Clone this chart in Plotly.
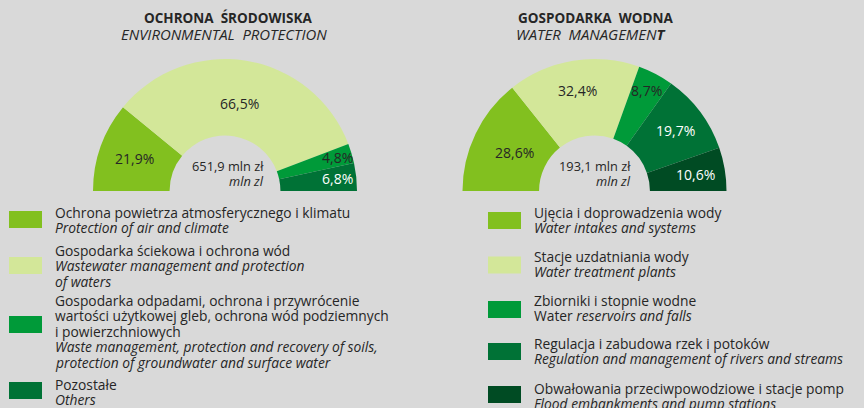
import math
import plotly.graph_objects as go

# ---------------- data ----------------
env_title_pl = "OCHRONA\u00a0\u00a0ŚRODOWISKA"
env_title_en = "ENVIRONMENTAL\u00a0\u00a0PROTECTION"
env_values = [21.9, 66.5, 4.8, 6.8]
env_labels = ["21,9%", "66,5%", "4,8%", "6,8%"]
env_total = "651,9 mln zł"
env_legend_pl = [
    ["Ochrona powietrza atmosferycznego i klimatu"],
    ["Gospodarka ściekowa i ochrona wód"],
    ["Gospodarka odpadami, ochrona i przywrócenie",
     "wartości użytkowej gleb, ochrona wód podziemnych",
     "i powierzchniowych"],
    ["Pozostałe"],
]
env_legend_en = [
    ["Protection of air and climate"],
    ["Wastewater management and protection", "of waters"],
    ["Waste management, protection and recovery of soils,",
     "protection of groundwater and surface water"],
    ["Others"],
]

wat_title_pl = "GOSPODARKA\u00a0\u00a0WODNA"
wat_title_en = "WATER\u00a0\u00a0MANAGEMEN<b>T</b>"
wat_values = [28.6, 32.4, 8.7, 19.7, 10.6]
wat_labels = ["28,6%", "32,4%", "8,7%", "19,7%", "10,6%"]
wat_total = "193,1 mln zł"
wat_legend_pl = [
    ["Ujęcia i doprowadzenia wody"],
    ["Stacje uzdatniania wody"],
    ["Zbiorniki i stopnie wodne"],
    ["Regulacja i zabudowa rzek i potoków"],
    ["Obwałowania przeciwpowodziowe i stacje pomp"],
]
wat_legend_en = [
    ["<i>Water intakes and systems</i>"],
    ["<i>Water treatment plants</i>"],
    ["Water <i>reservoirs and falls</i>"],
    ["<i>Regulation and management of rivers and streams</i>"],
    ["<i>Flood embankments and pump stations</i>"],
]
unit_en = "mln zl"

# ---------------- style ----------------
W, H = 864, 408
BG = "#d9d9d9"
TXT = "#262626"
FONT = "Open Sans"
FS = 13.8
env_colors = ["#82c01f", "#d3e799", "#009a39", "#007236"]
wat_colors = ["#82c01f", "#d3e799", "#009a39", "#007236", "#004b23"]
env_text_colors = [TXT, TXT, TXT, "white"]
wat_text_colors = [TXT, TXT, TXT, "white", "white"]

R_OUT, HOLE = 132, 0.42
env_c = (225, 191)
wat_c = (594.5, 191)
env_label_r = [96, 89, 117, 113]
wat_label_r = [89, 102, 113, 101, 102]


def px(x):
    return x / W


def py(y):
    return 1 - y / H


fig = go.Figure()
annotations = []
shapes = []


def add_half_donut(center, values, colors, labels, text_colors, label_r):
    cx, cy = center
    total = sum(values)
    fig.add_trace(go.Pie(
        values=list(values) + [total],
        marker=dict(colors=list(colors) + ["rgba(0,0,0,0)"], line=dict(width=0)),
        hole=HOLE, sort=False, direction="clockwise", rotation=270,
        textinfo="none", hoverinfo="skip", showlegend=False,
        domain=dict(x=[px(cx - R_OUT), px(cx + R_OUT)],
                    y=[py(cy + R_OUT), py(cy - R_OUT)]),
    ))
    cum = 0
    for v, lab, tc, r in zip(values, labels, text_colors, label_r):
        mid = 180 - (cum + v / 2) / total * 180
        cum += v
        a = math.radians(mid)
        x = cx + r * math.cos(a)
        y = cy - r * math.sin(a)
        annotations.append(dict(x=px(x), y=py(y), xref="paper", yref="paper",
                                text=lab, showarrow=False,
                                font=dict(family=FONT, size=14, color=tc),
                                xanchor="center", yanchor="middle"))


def add_text(x, y, text, size=FS, xanchor="left", italic=False, bold=False):
    t = text
    if bold:
        t = "<b>" + t + "</b>"
    if italic:
        t = "<i>" + t + "</i>"
    annotations.append(dict(x=px(x), y=py(y), xref="paper", yref="paper",
                            text=t, showarrow=False,
                            font=dict(family=FONT, size=size, color=TXT),
                            xanchor=xanchor, yanchor="middle"))


add_half_donut(env_c, env_values, env_colors, env_labels, env_text_colors, env_label_r)
add_half_donut(wat_c, wat_values, wat_colors, wat_labels, wat_text_colors, wat_label_r)

# titles
add_text(228, 18, env_title_pl, size=13.5, xanchor="center", bold=True)
add_text(223.5, 34, env_title_en, size=14.9, xanchor="center", italic=True)
add_text(595, 18, wat_title_pl, size=13.5, xanchor="center", bold=True)
add_text(591, 34, wat_title_en, size=14.9, xanchor="center", italic=True)

# centre totals
add_text(266, 166, env_total, size=12.8, xanchor="right")
add_text(266, 181, unit_en, size=12.8, xanchor="right", italic=True)
add_text(633, 166, wat_total, size=12.8, xanchor="right")
add_text(633, 181, unit_en, size=12.8, xanchor="right", italic=True)

# legends
LINE = 15.6
TX_L, TX_R = 53, 532
env_first_y = [212, 250, 300, 384]
env_sq_y = [219.5, 265.5, 324.5, 390.5]
for i in range(len(env_values)):
    shapes.append(dict(type="rect", xref="paper", yref="paper",
                       x0=px(9), x1=px(42), y0=py(env_sq_y[i] - 8.5), y1=py(env_sq_y[i] + 8.5),
                       fillcolor=env_colors[i], line=dict(width=0)))
    y = env_first_y[i]
    for line in env_legend_pl[i]:
        add_text(TX_L, y, line)
        y += LINE
    for line in env_legend_en[i]:
        add_text(TX_L, y, line, italic=True)
        y += LINE

wat_first_y = [212, 256, 300, 343, 388]
wat_sq_y = [220.5, 265, 309.5, 351.5, 394.5]
for i in range(len(wat_values)):
    shapes.append(dict(type="rect", xref="paper", yref="paper",
                       x0=px(488), x1=px(521), y0=py(wat_sq_y[i] - 8.5), y1=py(wat_sq_y[i] + 8.5),
                       fillcolor=wat_colors[i], line=dict(width=0)))
    y = wat_first_y[i]
    for line in wat_legend_pl[i]:
        add_text(TX_R, y, line)
        y += LINE
    for line in wat_legend_en[i]:
        add_text(TX_R, y, line)
        y += LINE

fig.update_layout(
    width=W, height=H,
    margin=dict(l=0, r=0, t=0, b=0),
    paper_bgcolor=BG, plot_bgcolor=BG,
    annotations=annotations, shapes=shapes,
    showlegend=False,
    font=dict(family=FONT, color=TXT),
)

fig.write_html(
    "out.html",
    config={"displayModeBar": False},
    post_script="document.body.style.margin='0';document.body.style.overflow='hidden';document.body.style.background='#d9d9d9';",
)
